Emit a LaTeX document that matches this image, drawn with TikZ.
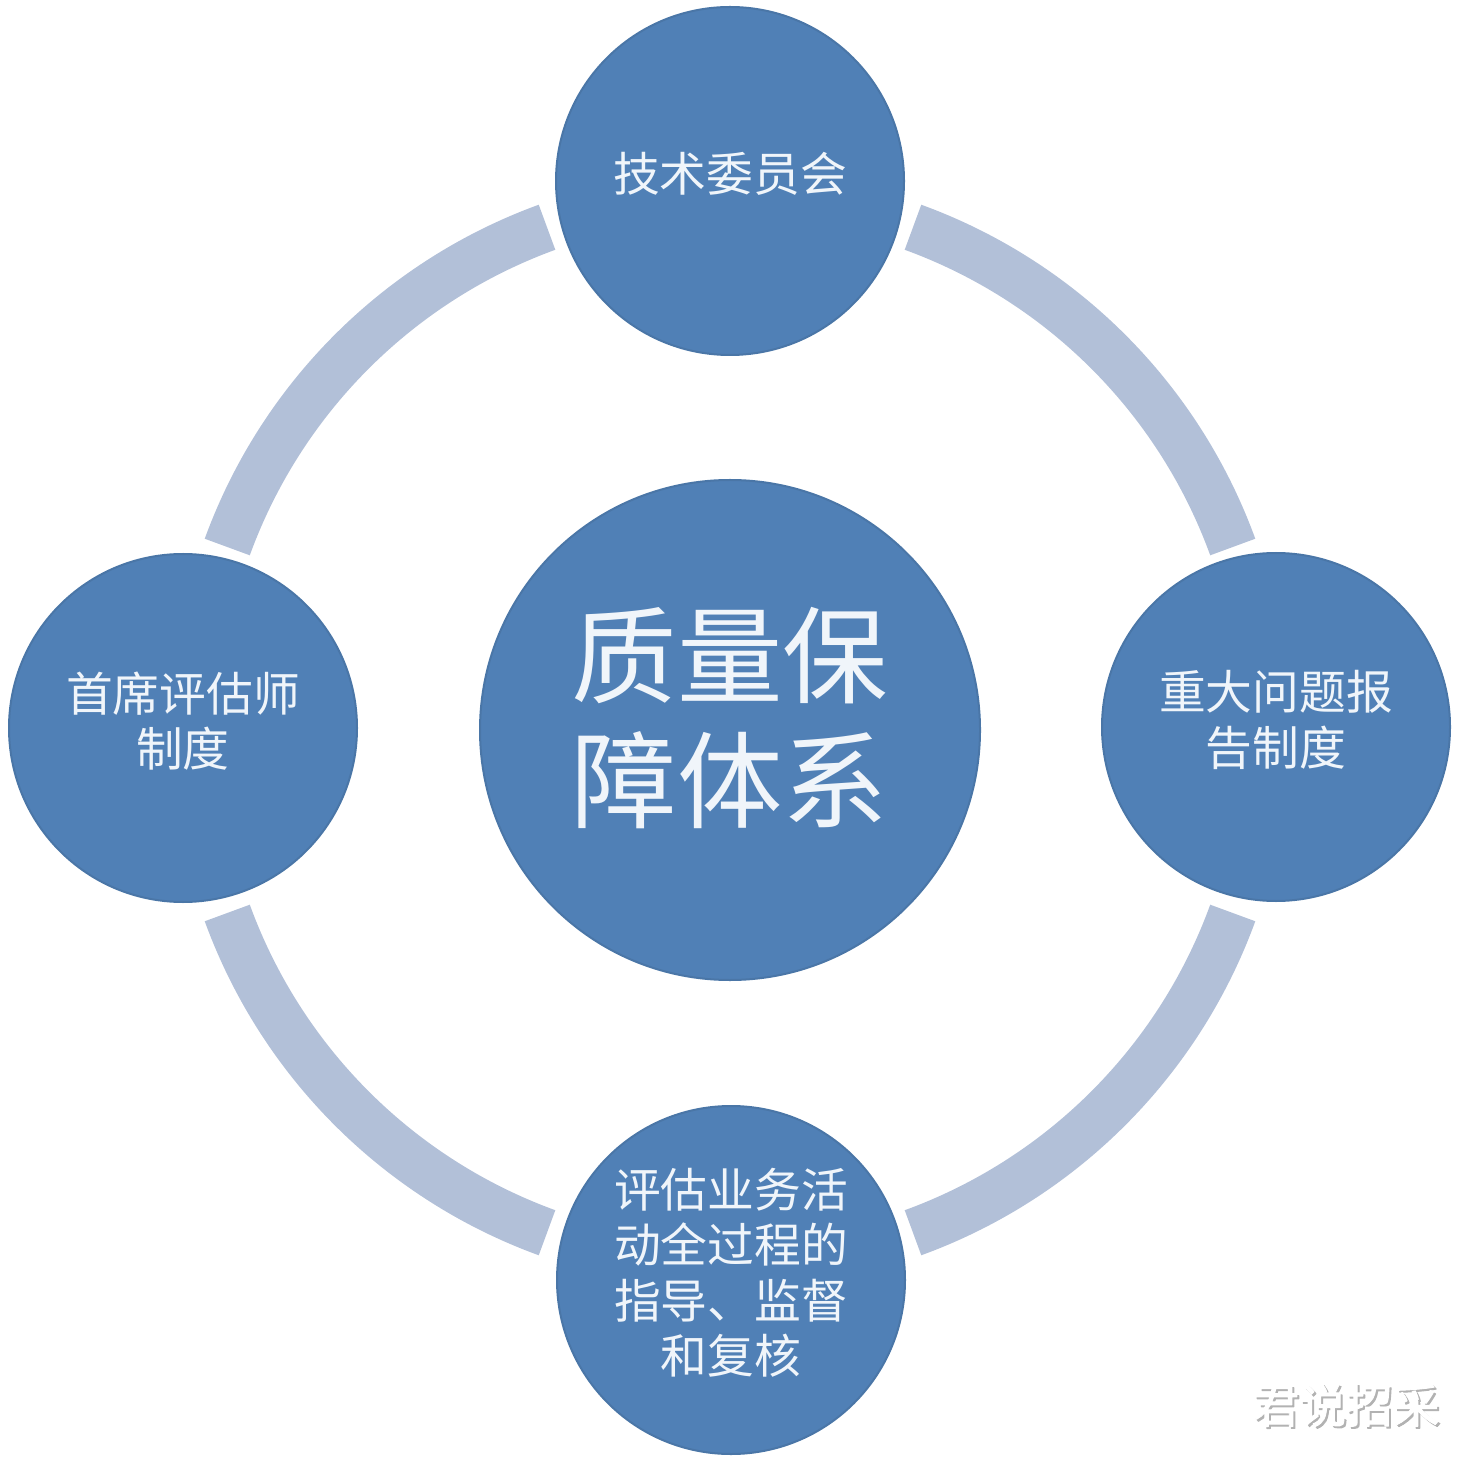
\documentclass[tikz,border=0pt]{standalone}
\usepackage{fontspec}
\newfontfamily\cjk{Noto Sans CJK SC}
\newfontfamily\cjkmark[FakeBold=2]{Noto Sans CJK SC}
\usetikzlibrary{calc}

\definecolor{discblue}{RGB}{80,128,182}
\definecolor{ringblue}{RGB}{178,192,216}
\definecolor{textwhite}{RGB}{240,245,250}

\begin{document}
\begin{tikzpicture}[line cap=butt, line join=round,
  disc/.style={circle, fill=discblue, draw=discblue!92!black, line width=0.02cm, inner sep=0pt, text=textwhite, align=center},
  small/.style={disc, minimum size=3.48cm, text depth=0.18cm, font={\cjk\fontsize{13.3}{15.8}\selectfont}},
  ring/.style={draw=ringblue, line width=0.48cm}]

\useasboundingbox (0,0) rectangle (14.64,14.60);

\node[disc, minimum size=5.0cm, text depth=0.33cm, font={\cjk\fontsize{30}{35.6}\selectfont}] (core) at (7.30,7.30) {质量保\\障体系};
\node[small] (committee) at (7.30,12.79) {技术委员会};
\node[small] (chief) at (1.83,7.32) {首席评估师\\制度};
\node[small] (report) at (12.76,7.33) {重大问题报\\告制度};
\node[small] (review) at (7.31,1.80) {评估业务活\\动全过程的\\指导、监督\\和复核};

\draw[ring] ($(core.center)+(20:5.35)$) arc[start angle=20, end angle=70, radius=5.35];
\draw[ring] ($(core.center)+(110:5.35)$) arc[start angle=110, end angle=160, radius=5.35];
\draw[ring] ($(core.center)+(200:5.35)$) arc[start angle=200, end angle=250, radius=5.35];
\draw[ring] ($(core.center)+(290:5.35)$) arc[start angle=290, end angle=340, radius=5.35];

\node[gray!60, font={\cjkmark\fontsize{13.3}{16}\selectfont}] (markshadow) at (13.48,0.53) {君说招采};
\node[white, font={\cjkmark\fontsize{13.3}{16}\selectfont}] (mark) at (13.46,0.55) {君说招采};

\end{tikzpicture}
\end{document}
